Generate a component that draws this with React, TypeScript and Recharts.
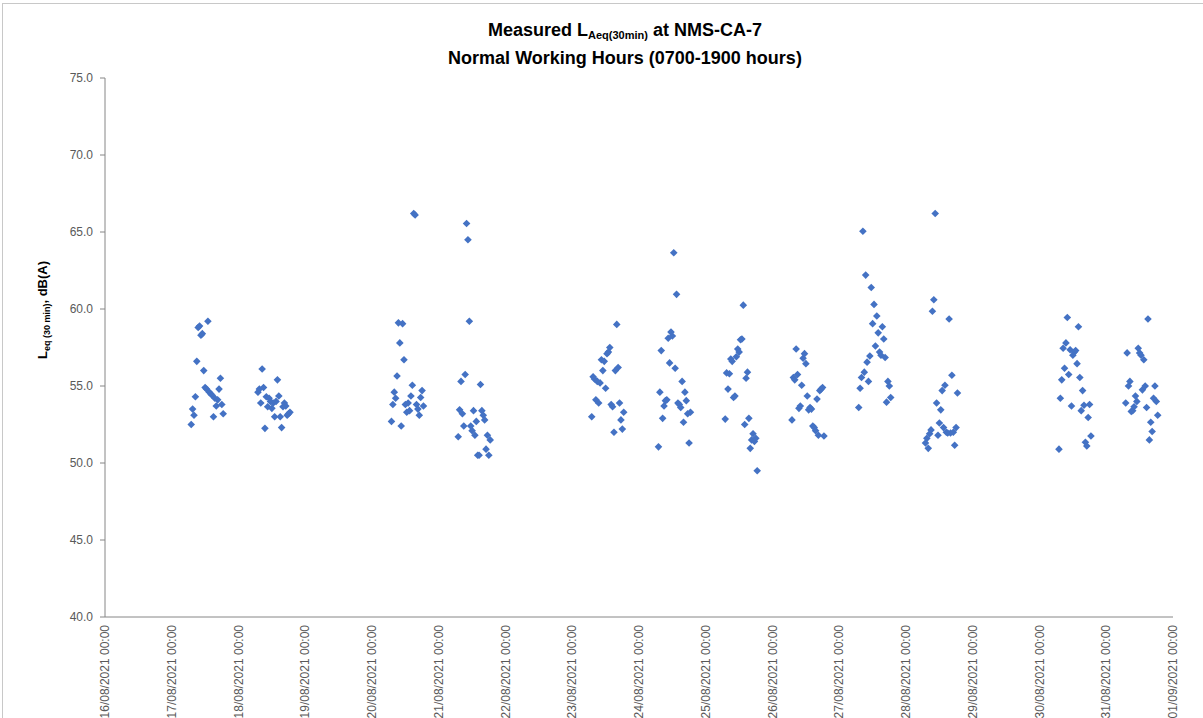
import * as React from 'react';
import { ScatterChart, Scatter, XAxis, YAxis } from 'recharts';

// x axis: one tick per day, 16/08 .. 01/09
const TICK_LABELS = [
  '16/08/2021 00:00',
  '17/08/2021 00:00',
  '18/08/2021 00:00',
  '19/08/2021 00:00',
  '20/08/2021 00:00',
  '21/08/2021 00:00',
  '22/08/2021 00:00',
  '23/08/2021 00:00',
  '24/08/2021 00:00',
  '25/08/2021 00:00',
  '26/08/2021 00:00',
  '27/08/2021 00:00',
  '28/08/2021 00:00',
  '29/08/2021 00:00',
  '30/08/2021 00:00',
  '31/08/2021 00:00',
  '01/09/2021 00:00',
];

const Y_TICKS = [40, 45, 50, 55, 60, 65, 70, 75];

// start of each 30 min period, 0700-1900
const HALF_HOURS = [
  7, 7.5, 8, 8.5, 9, 9.5, 10, 10.5, 11, 11.5, 12, 12.5,
  13, 13.5, 14, 14.5, 15, 15.5, 16, 16.5, 17, 17.5, 18, 18.5,
];

// LAeq(30min) per day, dB(A)
const AUG17 = [52.5, 53.5, 53.1, 54.3, 56.6, 58.8, 58.9, 58.3, 58.4, 56.0, 54.9, 54.8, 59.2, 54.6, 54.5, 54.4, 53.0, 54.2, 53.7, 54.1, 54.8, 55.5, 53.8, 53.2];
const AUG18 = [54.6, 54.8, 53.9, 56.1, 54.9, 52.25, 54.3, 53.65, 54.2, 54.0, 53.55, 53.9, 53.0, 54.0, 55.4, 54.35, 53.0, 52.3, 53.65, 53.9, 53.7, 53.1, 53.2, 53.3];
const AUG20 = [52.7, 53.8, 54.6, 54.2, 55.65, 59.1, 57.8, 52.4, 59.05, 56.7, 53.8, 53.3, 53.9, 53.4, 54.35, 55.05, 66.2, 66.1, 53.8, 53.5, 53.1, 54.25, 54.7, 53.7];
const AUG21 = [51.7, 53.45, 55.3, 53.2, 52.4, 55.75, 65.55, 64.5, 59.2, 52.4, 52.1, 53.4, 51.8, 52.7, 50.5, 50.5, 55.1, 53.4, 53.1, 52.8, 50.9, 51.8, 50.5, 51.5];
const AUG23 = [53.0, 55.6, 55.45, 54.1, 55.3, 53.9, 55.2, 56.7, 56.0, 56.6, 54.85, 57.1, 57.2, 57.5, 53.8, 53.65, 52.0, 56.0, 59.0, 56.2, 53.9, 52.8, 52.2, 53.3];
const AUG24 = [51.05, 54.6, 57.3, 52.9, 53.7, 54.05, 54.1, 58.1, 56.5, 58.5, 58.25, 63.65, 56.15, 60.95, 53.9, 53.8, 53.6, 55.3, 52.65, 54.6, 54.05, 53.2, 51.3, 53.3];
const AUG25 = [52.85, 55.85, 54.8, 55.8, 56.75, 56.6, 54.25, 54.35, 56.9, 57.4, 57.2, 58.0, 58.05, 60.25, 52.5, 55.5, 55.9, 52.9, 50.95, 51.5, 51.9, 51.4, 51.6, 49.5];
const AUG26 = [52.8, 55.55, 55.4, 57.4, 55.75, 53.55, 53.7, 55.05, 56.8, 57.1, 56.45, 54.35, 53.45, 53.6, 53.5, 52.4, 52.3, 52.1, 54.15, 51.8, 54.7, 54.8, 54.9, 51.75];
const AUG27 = [53.6, 54.85, 55.55, 65.05, 55.9, 62.2, 56.55, 55.3, 56.95, 61.4, 59.05, 60.3, 57.6, 59.55, 58.45, 57.2, 57.0, 58.85, 58.05, 56.85, 53.95, 55.3, 55.0, 54.25];
const AUG28 = [51.3, 51.6, 50.95, 51.9, 52.15, 59.85, 60.6, 66.2, 53.9, 51.8, 52.6, 53.45, 54.7, 52.3, 55.05, 52.0, 51.95, 59.35, 51.95, 55.7, 52.0, 51.15, 52.3, 54.55];
const AUG30 = [50.9, 54.2, 55.4, 57.45, 56.15, 57.8, 59.45, 55.75, 57.35, 53.7, 57.0, 57.2, 57.3, 56.45, 58.85, 55.55, 53.4, 54.7, 53.75, 51.35, 51.1, 52.95, 53.8, 51.75];
const AUG31 = [53.9, 57.15, 55.0, 55.3, 53.35, 53.4, 53.65, 54.35, 54.0, 57.45, 57.15, 57.0, 54.75, 56.7, 55.0, 53.6, 59.35, 51.5, 52.65, 52.05, 54.2, 55.0, 54.0, 53.1];

// day offset from 16/08 -> readings
const DAYS: { day: number; values: number[] }[] = [
  { day: 1, values: AUG17 },
  { day: 2, values: AUG18 },
  { day: 4, values: AUG20 },
  { day: 5, values: AUG21 },
  { day: 7, values: AUG23 },
  { day: 8, values: AUG24 },
  { day: 9, values: AUG25 },
  { day: 10, values: AUG26 },
  { day: 11, values: AUG27 },
  { day: 12, values: AUG28 },
  { day: 14, values: AUG30 },
  { day: 15, values: AUG31 },
];

const points = DAYS.flatMap(({ day, values }) =>
  values.map((v, i) => ({ x: day + HALF_HOURS[i] / 24, y: v }))
);

const X_TICKS = TICK_LABELS.map((_, i) => i);

const FONT = '"Liberation Sans", Arial, sans-serif';
const AXIS_GREY = '#868686';
const LABEL_GREY = '#595959';

function DateTick(props: any) {
  const { x, y, payload } = props;
  return (
    <text
      x={x}
      y={y}
      transform={`rotate(-90, ${x}, ${y})`}
      textAnchor="end"
      dominantBaseline="central"
      fontSize={12}
      fontFamily={FONT}
      fill={LABEL_GREY}
    >
      {TICK_LABELS[payload.value]}
    </text>
  );
}

function Diamond(props: any) {
  const { cx, cy } = props;
  const r = 3.8;
  return (
    <path
      d={`M${cx},${cy - r}L${cx + r},${cy}L${cx},${cy + r}L${cx - r},${cy}Z`}
      fill="#4472C4"
    />
  );
}

export default function App() {
  return (
    <div
      style={{
        position: 'absolute',
        left: 0,
        top: 0,
        width: 1203,
        height: 718,
        overflow: 'hidden',
        background: '#fff',
        fontFamily: FONT,
      }}
    >
      {/* chart area border */}
      <div
        style={{
          position: 'absolute',
          left: 2,
          top: 3,
          width: 1300,
          height: 800,
          border: '1px solid #c8c8c8',
        }}
      />
      <div
        style={{
          position: 'absolute',
          left: 0,
          top: 16,
          width: 1250,
          textAlign: 'center',
          fontWeight: 'bold',
          fontSize: 18,
          lineHeight: '28px',
          color: '#000',
        }}
      >
        <div style={{ height: 28 }}>
          Measured L
          <sub style={{ fontSize: 11, verticalAlign: -3, lineHeight: 0 }}>Aeq(30min)</sub> at
          NMS-CA-7
        </div>
        <div style={{ height: 28 }}>Normal Working Hours (0700-1900 hours)</div>
      </div>
      <div
        style={{
          position: 'absolute',
          left: 42,
          top: 310,
          transform: 'translate(-50%, -50%) rotate(-90deg)',
          whiteSpace: 'nowrap',
          fontWeight: 'bold',
          fontSize: 13,
          color: '#000',
        }}
      >
        L<sub style={{ fontSize: 9, verticalAlign: -3, lineHeight: 0 }}>eq (30 min)</sub>, dB(A)
      </div>
      <ScatterChart
        width={1203}
        height={718}
        margin={{ top: 78, right: 30, bottom: 0, left: 0 }}
        style={{ position: 'absolute', left: 0, top: 0 }}
      >
        <XAxis
          type="number"
          dataKey="x"
          domain={[0, 16]}
          ticks={X_TICKS}
          interval={0}
          height={101}
          tickLine={false}
          tickSize={0}
          tickMargin={8}
          axisLine={{ stroke: AXIS_GREY }}
          tick={<DateTick />}
          allowDataOverflow
        />
        <YAxis
          type="number"
          dataKey="y"
          domain={[40, 75]}
          ticks={Y_TICKS}
          interval={0}
          width={105}
          tickSize={5}
          tickMargin={7}
          tickLine={{ stroke: AXIS_GREY }}
          axisLine={{ stroke: AXIS_GREY }}
          tickFormatter={(v: number) => v.toFixed(1)}
          tick={{ fontSize: 12, fontFamily: FONT, fill: LABEL_GREY }}
          allowDataOverflow
        />
        <Scatter data={points} shape={<Diamond />} isAnimationActive={false} />
      </ScatterChart>
    </div>
  );
}
